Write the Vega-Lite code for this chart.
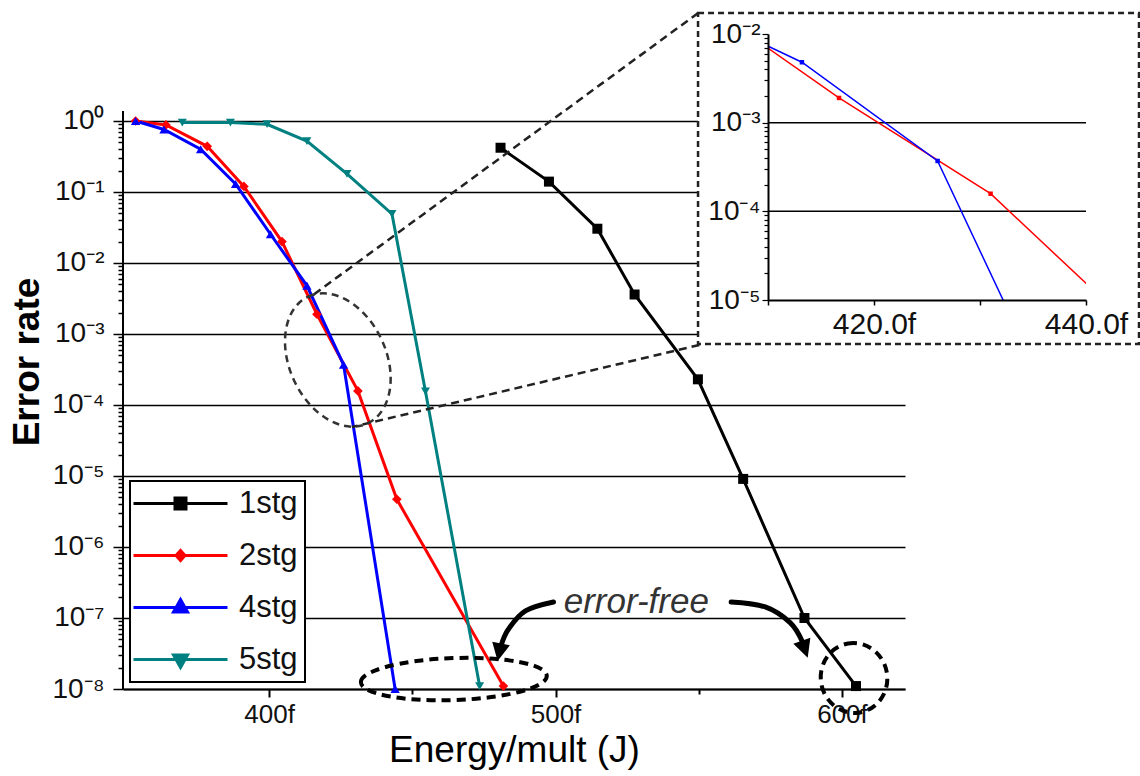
{
  "$schema": "https://vega.github.io/schema/vega-lite/v6.json",
  "padding": {"left": 8, "top": 11, "right": 2, "bottom": 2},
  "background": "white",
  "spacing": -209,
  "align": "none",
  "config": {
    "view": {"stroke": null},
    "font": "Liberation Sans",
    "axis": {"domainColor": "black", "tickColor": "black", "labelColor": "#111", "titleColor": "black", "labelFont": "Liberation Sans", "titleFont": "Liberation Sans"}
  },
  "resolve": {"scale": {"color": "independent"}, "legend": {"color": "independent"}},
  "datasets": {
    "pts": [
      {"s": "1stg", "e": 480.8, "v": 0.42},
      {"s": "1stg", "e": 497.7, "v": 0.14},
      {"s": "1stg", "e": 514.6, "v": 0.0304},
      {"s": "1stg", "e": 527.6, "v": 0.0036},
      {"s": "1stg", "e": 549.7, "v": 0.00023},
      {"s": "1stg", "e": 565.5, "v": 9.1e-6},
      {"s": "1stg", "e": 586.9, "v": 1.0e-7},
      {"s": "1stg", "e": 604.9, "v": 1.1e-8},
      {"s": "2stg", "e": 353.4, "v": 1.0},
      {"s": "2stg", "e": 364.0, "v": 0.88},
      {"s": "2stg", "e": 378.4, "v": 0.44},
      {"s": "2stg", "e": 391.2, "v": 0.12},
      {"s": "2stg", "e": 404.5, "v": 0.020},
      {"s": "2stg", "e": 416.7, "v": 0.0019},
      {"s": "2stg", "e": 431.0, "v": 0.000158},
      {"s": "2stg", "e": 444.6, "v": 4.7e-6},
      {"s": "2stg", "e": 481.8, "v": 1.1e-8},
      {"s": "4stg", "e": 353.4, "v": 1.0},
      {"s": "4stg", "e": 363.3, "v": 0.76},
      {"s": "4stg", "e": 376.1, "v": 0.40},
      {"s": "4stg", "e": 388.3, "v": 0.13},
      {"s": "4stg", "e": 400.5, "v": 0.0254},
      {"s": "4stg", "e": 413.2, "v": 0.0048},
      {"s": "4stg", "e": 426.0, "v": 0.00037},
      {"s": "4stg", "e": 444.0, "v": 1.0e-8},
      {"s": "5stg", "e": 369.7, "v": 0.95},
      {"s": "5stg", "e": 386.5, "v": 0.95},
      {"s": "5stg", "e": 399.3, "v": 0.90},
      {"s": "5stg", "e": 413.2, "v": 0.52},
      {"s": "5stg", "e": 427.2, "v": 0.18},
      {"s": "5stg", "e": 442.9, "v": 0.049},
      {"s": "5stg", "e": 454.6, "v": 0.000155},
      {"s": "5stg", "e": 473.5, "v": 1.1e-8}
    ]
  },
  "hconcat": [
    {
      "width": 782,
      "height": 655,
      "layer": [
        {
          "data": {"values": [{"e": 349, "v": 1e-8, "v2": 1.383}]},
          "mark": {"type": "rule", "color": "black", "strokeWidth": 2, "clip": false},
          "encoding": {
            "x": {"field": "e", "type": "quantitative", "scale": {"domain": [349, 622], "nice": false, "zero": false},
              "axis": {"values": [400, 450, 500, 550, 600], "grid": false, "labelFlush": false,
                "labelExpr": "datum.value % 100 === 0 ? datum.value + 'f' : ''",
                "tickSize": {"condition": {"test": "datum.value % 100 === 0", "value": 8}, "value": 5},
                "tickWidth": 2, "domainWidth": 2, "labelFont": "Liberation Sans", "labelFontSize": 26, "labelPadding": 4,
                "title": "Energy/mult (J)", "titleFontSize": 37, "titleFontWeight": "normal", "titlePadding": 5}},
            "y": {"field": "v", "type": "quantitative", "scale": {"type": "log", "domain": [1e-8, 16.8], "nice": false},
              "axis": {"values": [1e-8,2e-8,3e-8,4e-8,5e-8,6e-8,7e-8,8e-8,9e-8,1e-7,2e-7,3e-7,4e-7,5e-7,6e-7,7e-7,8e-7,9e-7,1e-6,2e-6,3e-6,4e-6,5e-6,6e-6,7e-6,8e-6,9e-6,1e-5,2e-5,3e-5,4e-5,5e-5,6e-5,7e-5,8e-5,9e-5,1e-4,2e-4,3e-4,4e-4,5e-4,6e-4,7e-4,8e-4,9e-4,1e-3,2e-3,3e-3,4e-3,5e-3,6e-3,7e-3,8e-3,9e-3,1e-2,2e-2,3e-2,4e-2,5e-2,6e-2,7e-2,8e-2,9e-2,0.1,0.2,0.3,0.4,0.5,0.6,0.7,0.8,0.9,1],
                "domain": false,
                "labelExpr": "abs(log(datum.value)/LN10 - round(log(datum.value)/LN10)) < 0.001 ? '10' + ['⁰','⁻¹','⁻²','⁻³','⁻⁴','⁻⁵','⁻⁶','⁻⁷','⁻⁸'][-round(log(datum.value)/LN10)] : ''",
                "grid": true, "gridColor": "black", "gridWidth": 1.5,
                "gridOpacity": {"condition": {"test": "abs(log(datum.value)/LN10 - round(log(datum.value)/LN10)) < 0.001", "value": 1}, "value": 0},
                "tickSize": {"condition": {"test": "abs(log(datum.value)/LN10 - round(log(datum.value)/LN10)) < 0.001", "value": 10}, "value": 5},
                "tickWidth": 1.5, "labelFontSize": 28, "labelPadding": 9,
                "title": "Error rate", "titleFontSize": 37, "titleFontWeight": "bold", "titlePadding": 5}},
            "y2": {"field": "v2"}
          }
        },
        {
          "data": {"name": "pts"},
          "mark": {"type": "line", "strokeWidth": 3},
          "encoding": {
            "x": {"field": "e", "type": "quantitative", "scale": {"domain": [349, 622], "nice": false, "zero": false}},
            "y": {"field": "v", "type": "quantitative", "scale": {"type": "log", "domain": [1e-8, 16.8], "nice": false}},
            "color": {"field": "s", "type": "nominal",
              "scale": {"domain": ["1stg", "2stg", "4stg", "5stg"], "range": ["#000000", "#ff0000", "#0000ff", "#008080"]},
              "legend": {"title": null, "orient": "bottom-left", "offset": 7, "padding": 7, "fillColor": "white", "strokeColor": "black",
                "labelFontSize": 31, "labelFont": "Liberation Sans", "labelColor": "#111", "labelLimit": 300,
                "symbolSize": 400, "symbolOffset": 28, "labelOffset": 43, "rowPadding": 20,
                "encode": {
                  "legend": {"update": {"strokeWidth": {"value": 2}}},
                  "symbols": {"update": {
                    "shape": {"signal": "datum.value === '1stg' ? 'M-4.7,0H4.7M-0.55,-0.55H0.55V0.55H-0.55Z' : datum.value === '2stg' ? 'M-4.7,0H4.7M0,-0.5L0.45,0L0,0.5L-0.45,0Z' : datum.value === '4stg' ? 'M-4.7,0H4.7M0,-0.8L0.7,0.45L-0.7,0.45Z' : 'M-4.7,0H4.7M0,0.8L0.7,-0.45L-0.7,-0.45Z'"},
                    "fill": {"signal": "datum.value === '1stg' ? '#000000' : datum.value === '2stg' ? '#ff0000' : datum.value === '4stg' ? '#0000ff' : '#008080'"},
                    "stroke": {"signal": "datum.value === '1stg' ? '#000000' : datum.value === '2stg' ? '#ff0000' : datum.value === '4stg' ? '#0000ff' : '#008080'"},
                    "strokeWidth": {"value": 3},
                    "size": {"value": 400},
                    "opacity": {"value": 1},
                    "fillOpacity": {"value": 1}
                  }}
                }}}
          }
        },
        {
          "data": {"name": "pts"},
          "mark": {"type": "point", "filled": true, "opacity": 1},
          "encoding": {
            "x": {"field": "e", "type": "quantitative", "scale": {"domain": [349, 622], "nice": false, "zero": false}},
            "y": {"field": "v", "type": "quantitative", "scale": {"type": "log", "domain": [1e-8, 16.8], "nice": false}},
            "color": {"field": "s", "type": "nominal", "scale": {"domain": ["1stg", "2stg", "4stg", "5stg"], "range": ["#000000", "#ff0000", "#0000ff", "#008080"]}},
            "shape": {"field": "s", "type": "nominal", "scale": {"domain": ["1stg", "2stg", "4stg", "5stg"], "range": ["square", "diamond", "triangle-up", "triangle-down"]}},
            "size": {"field": "s", "type": "nominal", "scale": {"domain": ["1stg", "2stg", "4stg", "5stg"], "range": [100, 80, 200, 200]}, "legend": null}
          }
        },
        {
          "data": {"values": [
            {"e": 549.8, "v": 33.2, "e2": 413.9, "v2": 0.00321},
            {"e": 550.2, "v": 0.0007, "e2": 428.9, "v2": 0.000049}
          ]},
          "mark": {"type": "rule", "color": "#222222", "strokeWidth": 2.5, "strokeDash": [8, 5], "clip": false},
          "encoding": {
            "x": {"field": "e", "type": "quantitative", "scale": {"domain": [349, 622], "nice": false, "zero": false}},
            "x2": {"field": "e2"},
            "y": {"field": "v", "type": "quantitative", "scale": {"type": "log", "domain": [1e-8, 16.8], "nice": false}},
            "y2": {"field": "v2"}
          }
        },
        {
          "data": {"values": [{"e": 424.0, "v": 0.00043}]},
          "mark": {"type": "point", "filled": false, "opacity": 1, "color": "#333333", "strokeWidth": 2.5, "strokeDash": [7, 5], "size": 19600, "angle": 65, "clip": false,
            "shape": "M-1,0C-1,-0.381 -0.552,-0.69 0,-0.69C0.552,-0.69 1,-0.381 1,0C1,0.381 0.552,0.69 0,0.69C-0.552,0.69 -1,0.381 -1,0Z"},
          "encoding": {
            "x": {"field": "e", "type": "quantitative", "scale": {"domain": [349, 622], "nice": false, "zero": false}},
            "y": {"field": "v", "type": "quantitative", "scale": {"type": "log", "domain": [1e-8, 16.8], "nice": false}}
          }
        },
        {
          "data": {"values": [{"e": 464.5, "v": 1.38e-8}]},
          "mark": {"type": "point", "filled": false, "opacity": 1, "color": "#000000", "strokeWidth": 4, "strokeDash": [9, 6], "size": 34596, "angle": -2, "clip": false,
            "shape": "M-1,0C-1,-0.125 -0.552,-0.226 0,-0.226C0.552,-0.226 1,-0.125 1,0C1,0.125 0.552,0.226 0,0.226C-0.552,0.226 -1,0.125 -1,0Z"},
          "encoding": {
            "x": {"field": "e", "type": "quantitative", "scale": {"domain": [349, 622], "nice": false, "zero": false}},
            "y": {"field": "v", "type": "quantitative", "scale": {"type": "log", "domain": [1e-8, 16.8], "nice": false}}
          }
        },
        {
          "data": {"values": [{"e": 604.2, "v": 1.43e-8}]},
          "mark": {"type": "point", "filled": false, "opacity": 1, "color": "#000000", "strokeWidth": 4, "strokeDash": [9, 6], "size": 4900, "angle": 80, "clip": false,
            "shape": "M-1,0C-1,-0.524 -0.552,-0.95 0,-0.95C0.552,-0.95 1,-0.524 1,0C1,0.524 0.552,0.95 0,0.95C-0.552,0.95 -1,0.524 -1,0Z"},
          "encoding": {
            "x": {"field": "e", "type": "quantitative", "scale": {"domain": [349, 622], "nice": false, "zero": false}},
            "y": {"field": "v", "type": "quantitative", "scale": {"type": "log", "domain": [1e-8, 16.8], "nice": false}}
          }
        },
        {
          "data": {"values": [
            {"a": "L", "o": 1, "e": 499.3, "v": 1.68e-7},
            {"a": "L", "o": 2, "e": 489.5, "v": 1.26e-7},
            {"a": "L", "o": 3, "e": 483.6, "v": 7.0e-8},
            {"a": "L", "o": 4, "e": 481.0, "v": 4.1e-8},
            {"a": "R", "o": 1, "e": 561.3, "v": 1.68e-7},
            {"a": "R", "o": 2, "e": 573.2, "v": 1.43e-7},
            {"a": "R", "o": 3, "e": 581.9, "v": 8.6e-8},
            {"a": "R", "o": 4, "e": 586.1, "v": 4.7e-8}
          ]},
          "mark": {"type": "line", "interpolate": "cardinal", "color": "#000000", "strokeWidth": 5, "strokeCap": "round", "clip": false},
          "encoding": {
            "x": {"field": "e", "type": "quantitative", "scale": {"domain": [349, 622], "nice": false, "zero": false}},
            "y": {"field": "v", "type": "quantitative", "scale": {"type": "log", "domain": [1e-8, 16.8], "nice": false}},
            "detail": {"field": "a"},
            "order": {"field": "o", "type": "quantitative"}
          }
        },
        {
          "data": {"values": [{"e": 480.45, "v": 3.4e-8}]},
          "mark": {"type": "point", "filled": true, "opacity": 1, "color": "#000000", "size": 400, "angle": 191, "clip": false, "shape": "M0,-1L0.9,0.8L-0.9,0.8Z"},
          "encoding": {
            "x": {"field": "e", "type": "quantitative", "scale": {"domain": [349, 622], "nice": false, "zero": false}},
            "y": {"field": "v", "type": "quantitative", "scale": {"type": "log", "domain": [1e-8, 16.8], "nice": false}}
          }
        },
        {
          "data": {"values": [{"e": 586.9, "v": 3.74e-8}]},
          "mark": {"type": "point", "filled": true, "opacity": 1, "color": "#000000", "size": 400, "angle": 161, "clip": false, "shape": "M0,-1L0.9,0.8L-0.9,0.8Z"},
          "encoding": {
            "x": {"field": "e", "type": "quantitative", "scale": {"domain": [349, 622], "nice": false, "zero": false}},
            "y": {"field": "v", "type": "quantitative", "scale": {"type": "log", "domain": [1e-8, 16.8], "nice": false}}
          }
        },
        {
          "data": {"values": [{"e": 528.2, "v": 1.68e-7, "t": "error-free"}]},
          "mark": {"type": "text", "font": "Liberation Sans", "fontSize": 35, "fontStyle": "italic", "color": "#333333", "align": "center", "baseline": "middle", "clip": false},
          "encoding": {
            "x": {"field": "e", "type": "quantitative", "scale": {"domain": [349, 622], "nice": false, "zero": false}},
            "y": {"field": "v", "type": "quantitative", "scale": {"type": "log", "domain": [1e-8, 16.8], "nice": false}},
            "text": {"field": "t"}
          }
        }
      ]
    },
    {
      "width": 318,
      "height": 266,
      "layer": [
        {
          "data": {"values": [{"xa": 403.4, "xb": 445.0, "ya": 0.01726, "yb": 3.19e-6}]},
          "mark": {"type": "rect", "fill": "white", "stroke": "#222222", "strokeWidth": 2.5, "strokeDash": [6, 4], "clip": false},
          "encoding": {
            "x": {"field": "xa", "type": "quantitative", "scale": {"domain": [410, 440], "nice": false, "zero": false},
              "axis": {"values": [410, 420, 430, 440], "grid": false, "zindex": 1, "labelFlush": false,
                "labelExpr": "datum.value === 420 ? '420.0f' : datum.value === 440 ? '440.0f' : ''",
                "tickSize": 5, "tickWidth": 1.5, "domainWidth": 2, "labelFontSize": 30, "labelPadding": 4, "title": null}},
            "x2": {"field": "xb"},
            "y": {"field": "ya", "type": "quantitative", "scale": {"type": "log", "domain": [1e-5, 1e-2], "nice": false},
              "axis": {"values": [1e-5,2e-5,3e-5,4e-5,5e-5,6e-5,7e-5,8e-5,9e-5,1e-4,2e-4,3e-4,4e-4,5e-4,6e-4,7e-4,8e-4,9e-4,1e-3,2e-3,3e-3,4e-3,5e-3,6e-3,7e-3,8e-3,9e-3,1e-2],
                "grid": false, "zindex": 1, "labelFlush": false,
                "labelExpr": "abs(log(datum.value)/LN10 - round(log(datum.value)/LN10)) < 0.001 ? '10' + ['⁰','⁻¹','⁻²','⁻³','⁻⁴','⁻⁵','⁻⁶','⁻⁷','⁻⁸'][-round(log(datum.value)/LN10)] : ''",
                "tickSize": {"condition": {"test": "abs(log(datum.value)/LN10 - round(log(datum.value)/LN10)) < 0.001", "value": 6}, "value": 4},
                "tickWidth": 1.2, "domainWidth": 2, "labelFontSize": 28, "labelPadding": 2, "title": null}},
            "y2": {"field": "yb"}
          }
        },
        {
          "data": {"values": [{"v": 0.001}, {"v": 0.0001}]},
          "mark": {"type": "rule", "color": "black", "strokeWidth": 1.5},
          "encoding": {
            "y": {"field": "v", "type": "quantitative", "scale": {"type": "log", "domain": [1e-5, 1e-2], "nice": false}}
          }
        },
        {
          "data": {"name": "pts"},
          "transform": [{"filter": "datum.s === '2stg' || datum.s === '4stg'"}],
          "mark": {"type": "line", "strokeWidth": 1.5, "clip": true},
          "encoding": {
            "x": {"field": "e", "type": "quantitative", "scale": {"domain": [410, 440], "nice": false, "zero": false}},
            "y": {"field": "v", "type": "quantitative", "scale": {"type": "log", "domain": [1e-5, 1e-2], "nice": false}},
            "color": {"field": "s", "type": "nominal", "scale": {"domain": ["2stg", "4stg"], "range": ["#ff0000", "#0000ff"]}, "legend": null}
          }
        },
        {
          "data": {"name": "pts"},
          "transform": [{"filter": "datum.s === '2stg' || datum.s === '4stg'"}],
          "mark": {"type": "point", "filled": true, "opacity": 1, "size": 20, "shape": "square", "clip": true},
          "encoding": {
            "x": {"field": "e", "type": "quantitative", "scale": {"domain": [410, 440], "nice": false, "zero": false}},
            "y": {"field": "v", "type": "quantitative", "scale": {"type": "log", "domain": [1e-5, 1e-2], "nice": false}},
            "color": {"field": "s", "type": "nominal", "scale": {"domain": ["2stg", "4stg"], "range": ["#ff0000", "#0000ff"]}, "legend": null}
          }
        }
      ]
    }
  ]
}
